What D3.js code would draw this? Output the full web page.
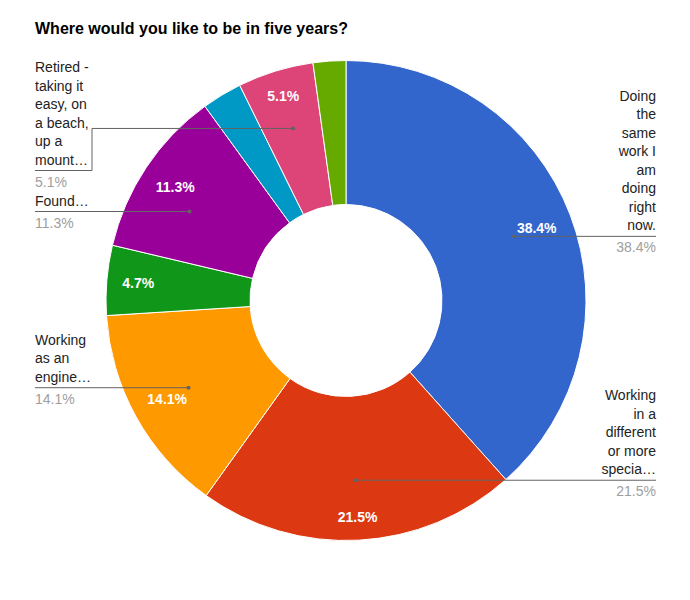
<!DOCTYPE html>
<html><head><meta charset="utf-8">
<script src="https://cdn.jsdelivr.net/npm/d3@7"></script>
<style>body{margin:0;background:#fff}svg{display:block;font-family:"Liberation Sans",Arial,sans-serif}</style>
</head><body><svg id="c" width="690" height="600"></svg>
<script>
// ---- data ----
const title = "Where would you like to be in five years?";
const values = [38.4, 21.5, 14.1, 4.7, 11.3, 2.7, 5.1, 2.2];
const colors = ["#3366cc","#dc3912","#ff9900","#109618","#990099","#0099c6","#dd4477","#66aa00"];
const labelLines = [
  ["Doing","the","same","work I","am","doing","right","now."],
  ["Working","in a","different","or more","specia…"],
  ["Working","as an","engine…"],
  null,
  ["Found…"],
  null,
  ["Retired -","taking it","easy, on","a beach,","up a","mount…"],
  null
];

// ---- layout ----
const W = 690, H = 600;
const cx = 346, cy = 300.5, R = 240, R0 = 96;
const svg = d3.select("#c");
const fmt = d3.format(".1f");
const total = d3.sum(values);

svg.append("text").attr("x", 35).attr("y", 33.5)
  .attr("font-size", 16).attr("font-weight", "bold").attr("fill", "#000").text(title);

const pie = d3.pie().sort(null).value(d => d)(values);
const arc = d3.arc().innerRadius(R0).outerRadius(R);
const g = svg.append("g").attr("transform", `translate(${cx},${cy})`);

g.selectAll("path").data(pie).join("path")
  .attr("d", arc).attr("fill", (d, i) => colors[i])
  .attr("stroke", "#fff").attr("stroke-width", 1);

// in-slice percentage labels
const pctText = d => fmt(d.value / total * 100) + "%";
pie.forEach((d, i) => {
  if (d.value / total < 0.03) return;
  const mid = (d.startAngle + d.endAngle) / 2;
  const t = g.append("text").attr("font-size", 14).attr("font-weight", "bold")
    .attr("fill", "#fff").attr("text-anchor", "middle").attr("dy", "0.35em").text(pctText(d));
  const w = t.node().getComputedTextLength(), h = 13;
  const s = Math.sin(mid), c = Math.cos(mid);
  let lo = 0, hi = R;
  for (let k = 0; k < 40; k++) {
    const m = (lo + hi) / 2;
    const dx = Math.abs(m * s) + w / 2, dy = Math.abs(m * c) + h / 2;
    if (Math.hypot(dx, dy) > R - 15) hi = m; else lo = m;
  }
  t.attr("x", lo * s).attr("y", -lo * c);
});

// external labels
const lineH = 18.5, anchorR = 180, colL = 35, colR = 656, wrapW = 57;
const items = [];
pie.forEach((d, i) => {
  if (!labelLines[i]) return;
  const mid = (d.startAngle + d.endAngle) / 2;
  const ax = cx + anchorR * Math.sin(mid), ay = cy - anchorR * Math.cos(mid);
  const n = labelLines[i].length;
  items.push({i, d, ax, ay, n, side: Math.sin(mid) > 0 ? "R" : "L",
    top: 6 + (n - 1) * lineH + 11, bottom: 20});
});
["L", "R"].forEach(side => {
  const list = items.filter(o => o.side === side).sort((a, b) => a.ay - b.ay);
  let prevBottom = -Infinity;
  list.forEach(o => {
    o.ly = Math.max(o.ay, 61 + o.top, prevBottom + 4 + o.top);
    prevBottom = o.ly + o.bottom;
  });
});
// slide the anchor along its circle when the label line stays within the slice
items.forEach(o => {
  o.straight = Math.abs(o.ly - o.ay) < 0.5;
  if (o.straight) return;
  const v = (cy - o.ly) / anchorR;
  if (Math.abs(v) > 1) return;
  const th = o.side === "R" ? Math.acos(v) : 2 * Math.PI - Math.acos(v);
  if (th >= o.d.startAngle && th <= o.d.endAngle) {
    o.ax = cx + anchorR * Math.sin(th);
    o.ay = o.ly;
    o.straight = true;
  }
});

const lg = svg.append("g");
items.forEach(o => {
  const colX = o.side === "L" ? colL : colR;
  let p;
  if (o.straight) {
    p = `M${o.ax},${o.ay}H${colX}`;
  } else {
    const ex = o.side === "L" ? colL + wrapW : colR - wrapW;
    p = `M${o.ax},${o.ay}H${ex}V${o.ly}H${colX}`;
  }
  lg.append("path").attr("d", p).attr("fill", "none").attr("stroke", "#636363").attr("stroke-width", 1);
  lg.append("circle").attr("cx", o.ax).attr("cy", o.ay).attr("r", 2).attr("fill", "#636363");
  const anchor = o.side === "L" ? "start" : "end";
  labelLines[o.i].forEach((s, k) => {
    lg.append("text").attr("x", colX).attr("y", o.ly - 6 - (o.n - 1 - k) * lineH)
      .attr("text-anchor", anchor).attr("font-size", 14).attr("fill", "#222").text(s);
  });
  lg.append("text").attr("x", colX).attr("y", o.ly + 16)
    .attr("text-anchor", anchor).attr("font-size", 14).attr("fill", "#9e9e9e").text(pctText(o.d));
});
</script></body></html>
